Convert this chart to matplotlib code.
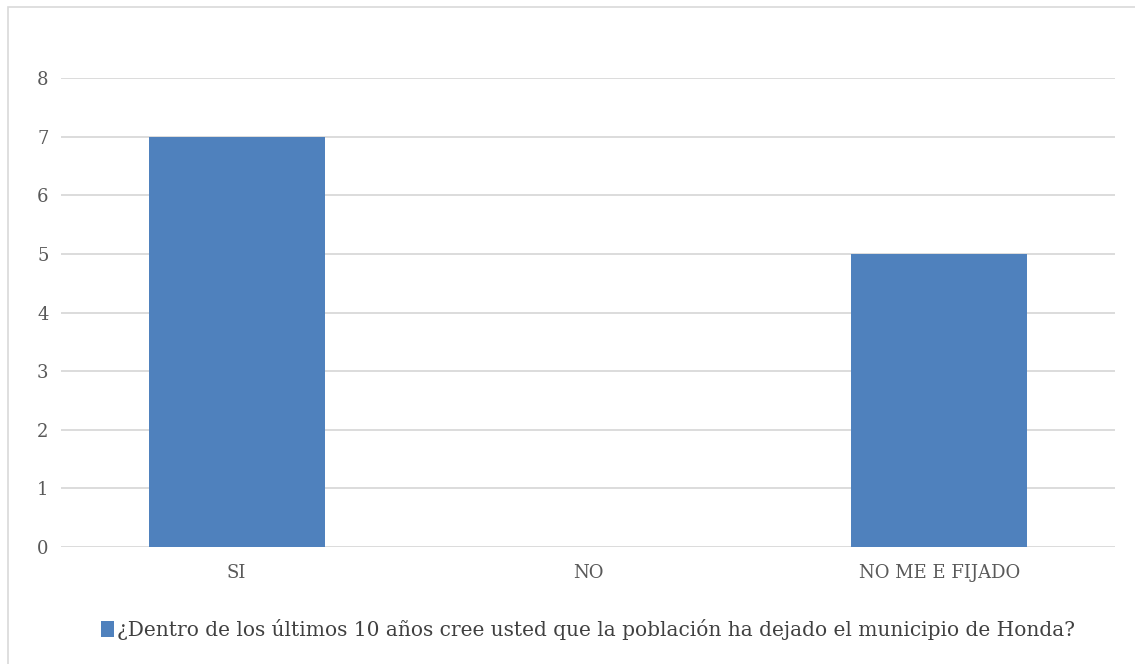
import matplotlib
matplotlib.use('Agg')
import matplotlib.pyplot as plt
import matplotlib.patches as mpatches

# Datos
categorias = ['SI', 'NO', 'NO ME E FIJADO']
valores = [7, 0, 5]
serie = '¿Dentro de los últimos 10 años cree usted que la población ha dejado el municipio de Honda?'
yticks = [0, 1, 2, 3, 4, 5, 6, 7, 8]

plt.rcParams['font.family'] = ['DejaVu Serif']

fig = plt.figure(figsize=(11.35, 6.64), dpi=100)
ax = fig.add_axes([61/1135, 1 - 547/664, (1115 - 61)/1135, (547 - 78)/664])

# borde del grafico
borde = mpatches.Rectangle((8/1135, -0.05), 1.2, 1 - 7/664 + 0.05, transform=fig.transFigure,
                           fill=False, edgecolor='#d9d9d9', linewidth=1.2)
fig.patches.append(borde)

x = range(len(categorias))
ax.bar(x, valores, width=0.5, color='#4f81bd', label=serie, zorder=3)

ax.set_xlim(-0.5, len(categorias) - 0.5)
ax.set_ylim(0, 8)
ax.set_yticks(yticks)
ax.set_xticks(list(x))
ax.set_xticklabels(categorias)
ax.grid(axis='y', color='#d9d9d9', linewidth=1.3, zorder=0)
for s in ax.spines.values():
    s.set_visible(False)
ax.tick_params(length=0, colors='#595959', labelsize=13)
ax.tick_params(axis='y', pad=9)
ax.tick_params(axis='x', pad=12)

ax.legend(loc='upper center', bbox_to_anchor=(0.5, -0.115), frameon=False,
          fontsize=14.5, handlelength=0.6, handleheight=0.85, handletextpad=0.15,
          labelcolor='#404040')

fig.savefig('out.png', dpi=100)
